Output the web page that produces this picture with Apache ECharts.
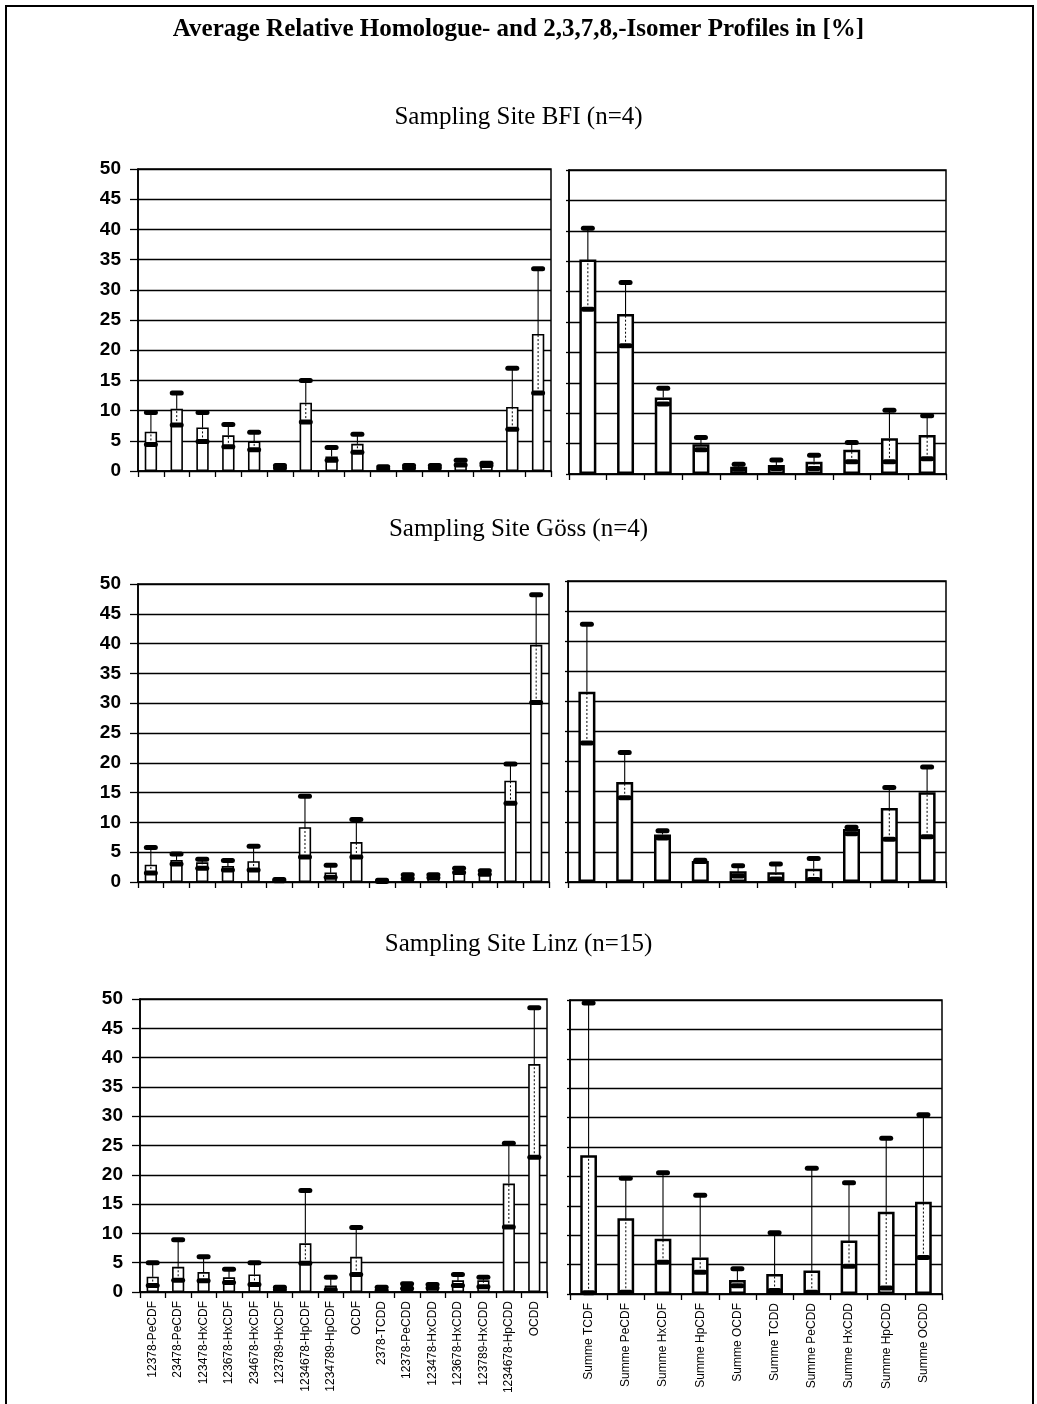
<!DOCTYPE html>
<html>
<head>
<meta charset="utf-8">
<script src="https://cdn.jsdelivr.net/npm/echarts@6/dist/echarts.min.js"></script>
<style>
html,body{margin:0;padding:0;background:#fff;}
#chart{width:1037px;height:1404px;}
</style>
</head>
<body>
<div id="chart"></div>
<script>
// ---- categories ----
const isomerCats = ['12378-PeCDF','23478-PeCDF','123478-HxCDF','123678-HxCDF','234678-HxCDF','123789-HxCDF','1234678-HpCDF','1234789-HpCDF','OCDF','2378-TCDD','12378-PeCDD','123478-HxCDD','123678-HxCDD','123789-HxCDD','1234678-HpCDD','OCDD'];
const homologueCats = ['Summe TCDF','Summe PeCDF','Summe HxCDF','Summe HpCDF','Summe OCDF','Summe TCDD','Summe PeCDD','Summe HxCDD','Summe HpCDD','Summe OCDD'];

// ---- titles ----
const mainTitle = 'Average Relative Homologue- and 2,3,7,8,-Isomer Profiles in [%]';
const siteTitles = ['Sampling Site BFI (n=4)','Sampling Site Göss (n=4)','Sampling Site Linz (n=15)'];

// ---- BFI ----
const bfiIsoMean = [6.5,10.3,7.2,5.9,4.9,0.7,11.3,2.4,4.5,0.5,0.7,0.7,1.4,1.1,10.6,22.7];
const bfiIsoLow  = [4.4,7.6,4.9,4.0,3.5,0.5,8.1,1.8,3.1,0.35,0.5,0.5,1.0,0.9,6.9,12.9];
const bfiIsoHigh = [9.7,12.9,9.7,7.7,6.4,0.9,15.0,3.9,6.1,0.7,0.9,0.9,1.8,1.3,17.0,33.5];
const bfiHomMean = [35.3,26.3,12.6,4.9,1.2,1.5,2.0,4.0,5.9,6.4];
const bfiHomLow  = [27.1,21.1,11.5,4.0,0.8,0.9,0.9,2.0,2.0,2.5];
const bfiHomHigh = [40.4,31.5,14.1,6.0,1.6,2.3,3.1,5.2,10.5,9.6];

// ---- Göss ----
const gossIsoMean = [2.9,3.7,3.3,2.7,3.5,0.3,9.2,1.6,6.7,0.2,0.9,0.9,1.9,1.6,17.0,39.8];
const gossIsoLow  = [1.5,3.0,2.3,2.0,2.0,0.2,4.2,0.8,4.2,0.1,0.6,0.7,1.6,1.3,13.2,30.1];
const gossIsoHigh = [5.8,4.7,3.8,3.6,6.0,0.4,14.4,2.8,10.5,0.3,1.2,1.2,2.3,1.9,19.8,48.2];
const gossHomMean = [31.6,16.6,7.9,3.5,1.8,1.6,2.2,8.8,12.3,14.9];
const gossHomLow  = [23.1,14.0,7.3,3.4,1.0,0.5,0.4,8.0,7.1,7.5];
const gossHomHigh = [42.8,21.5,8.5,3.6,2.7,3.0,3.9,9.1,15.7,19.1];

// ---- Linz ----
const linzIsoMean = [2.6,4.3,3.4,2.5,3.0,0.6,8.3,1.1,6.0,0.6,1.1,1.0,2.0,2.0,18.5,38.9];
const linzIsoLow  = [1.1,2.0,1.9,1.6,1.3,0.4,4.9,0.4,3.0,0.3,0.6,0.7,1.1,0.9,11.1,23.0];
const linzIsoHigh = [5.0,8.9,6.0,3.9,5.0,0.8,17.3,2.5,11.0,0.8,1.4,1.3,3.0,2.5,25.4,48.5];
const linzHomMean = [23.6,12.9,9.4,6.2,2.4,3.4,4.0,9.1,14.0,15.7];
const linzHomLow  = [0.2,0.3,5.4,3.7,1.4,0.6,0.3,4.7,1.0,6.2];
const linzHomHigh = [49.5,19.7,20.6,16.8,4.3,10.4,21.4,18.9,26.5,30.5];

const panels = [
  {cats: isomerCats, mean: bfiIsoMean, low: bfiIsoLow, high: bfiIsoHigh, left:138, top:169, width:413, height:302, labels:false, yLabels:true, bw:'48%', bbw:1.6},
  {cats: homologueCats, mean: bfiHomMean, low: bfiHomLow, high: bfiHomHigh, left:569, top:170, width:377, height:304, labels:false, yLabels:false, bw:'45%', bbw:2.5},
  {cats: isomerCats, mean: gossIsoMean, low: gossIsoLow, high: gossIsoHigh, left:138, top:584, width:411, height:298, labels:false, yLabels:true, bw:'48%', bbw:1.6},
  {cats: homologueCats, mean: gossHomMean, low: gossHomLow, high: gossHomHigh, left:568, top:581, width:378, height:301, labels:false, yLabels:false, bw:'45%', bbw:2.5},
  {cats: isomerCats, mean: linzIsoMean, low: linzIsoLow, high: linzIsoHigh, left:140, top:999, width:407, height:293, labels:true, yLabels:true, bw:'48%', bbw:1.6},
  {cats: homologueCats, mean: linzHomMean, low: linzHomLow, high: linzHomHigh, left:570, top:1000, width:372, height:294, labels:true, yLabels:false, bw:'45%', bbw:2.5}
];

function renderErr(params, api) {
  const idx = api.value(0);
  const mean = api.value(1), lo = api.value(2), hi = api.value(3);
  const pm = api.coord([idx, mean]);
  const pl = api.coord([idx, lo]);
  const ph = api.coord([idx, hi]);
  const band = api.size([1, 0])[0];
  const capW = Math.min(band * 0.55, 14);
  const capH = 5;
  const x = pm[0];
  return {
    type: 'group',
    children: [
      {type:'line', shape:{x1:x, y1:pl[1], x2:x, y2:pm[1]}, style:{stroke:'#000', lineWidth:1, lineDash:[2,2]}},
      {type:'line', shape:{x1:x, y1:pm[1], x2:x, y2:ph[1]}, style:{stroke:'#000', lineWidth:1.1}},
      {type:'rect', shape:{x:x-capW/2, y:ph[1]-capH/2, width:capW, height:capH, r:2.5}, style:{fill:'#000'}},
      {type:'rect', shape:{x:x-capW/2, y:pl[1]-capH/2, width:capW, height:capH, r:2.5}, style:{fill:'#000'}}
    ]
  };
}

const grids = [], xAxes = [], yAxes = [], series = [];
panels.forEach((p, i) => {
  grids.push({left:p.left, top:p.top, width:p.width, height:p.height, show:true, borderColor:'#000', borderWidth:1.5, backgroundColor:'transparent', containLabel:false});
  xAxes.push({
    type:'category', gridIndex:i, data:p.cats,
    axisLine:{show:true, lineStyle:{color:'#000', width:1.6}},
    axisTick:{show:true, alignWithLabel:false, length:6, lineStyle:{color:'#000', width:1.3}},
    axisLabel:{show:p.labels, rotate:90, interval:0, fontSize:12, color:'#000', fontFamily:'Liberation Sans, Arial, sans-serif', margin:9},
    splitLine:{show:false}
  });
  yAxes.push({
    type:'value', gridIndex:i, min:0, max:50, interval:5,
    axisLine:{show:true, lineStyle:{color:'#000', width:1.6}},
    axisTick:{show:true, length: p.yLabels ? 8 : 3, lineStyle:{color:'#000', width:1.3}},
    axisLabel:{show:p.yLabels, fontSize:19, fontWeight:'bold', color:'#000', fontFamily:'Liberation Sans, Arial, sans-serif', margin:17},
    splitLine:{show:true, lineStyle:{color:'#000', width:1.4}}
  });
  series.push({
    type:'bar', xAxisIndex:i, yAxisIndex:i, data:p.mean, barWidth:p.bw,
    itemStyle:{color:'#fff', borderColor:'#000', borderWidth:p.bbw},
    silent:true, z:2
  });
  series.push({
    type:'custom', xAxisIndex:i, yAxisIndex:i, renderItem:renderErr,
    data:p.mean.map((m, k) => [k, m, p.low[k], p.high[k]]),
    encode:{x:0, y:[1,2,3]}, silent:true, z:3
  });
});

const serif = 'Liberation Serif, Times New Roman, serif';
const titles = [
  {text: mainTitle, left:'center', top:17, padding:0, textStyle:{fontFamily:serif, fontSize:25, fontWeight:'bold', color:'#000'}},
  {text: siteTitles[0], left:'center', top:105, padding:0, textStyle:{fontFamily:serif, fontSize:25, fontWeight:'normal', color:'#000'}},
  {text: siteTitles[1], left:'center', top:517, padding:0, textStyle:{fontFamily:serif, fontSize:25, fontWeight:'normal', color:'#000'}},
  {text: siteTitles[2], left:'center', top:932, padding:0, textStyle:{fontFamily:serif, fontSize:25, fontWeight:'normal', color:'#000'}}
];

const chart = echarts.init(document.getElementById('chart'), null, {renderer:'canvas'});
chart.setOption({
  backgroundColor:'#fff',
  animation:false,
  title: titles,
  grid: grids,
  xAxis: xAxes,
  yAxis: yAxes,
  series: series,
  graphic: [{type:'rect', shape:{x:6, y:6, width:1027, height:1420}, style:{fill:'none', stroke:'#000', lineWidth:2}, silent:true, z:10}]
});
</script>
</body>
</html>
